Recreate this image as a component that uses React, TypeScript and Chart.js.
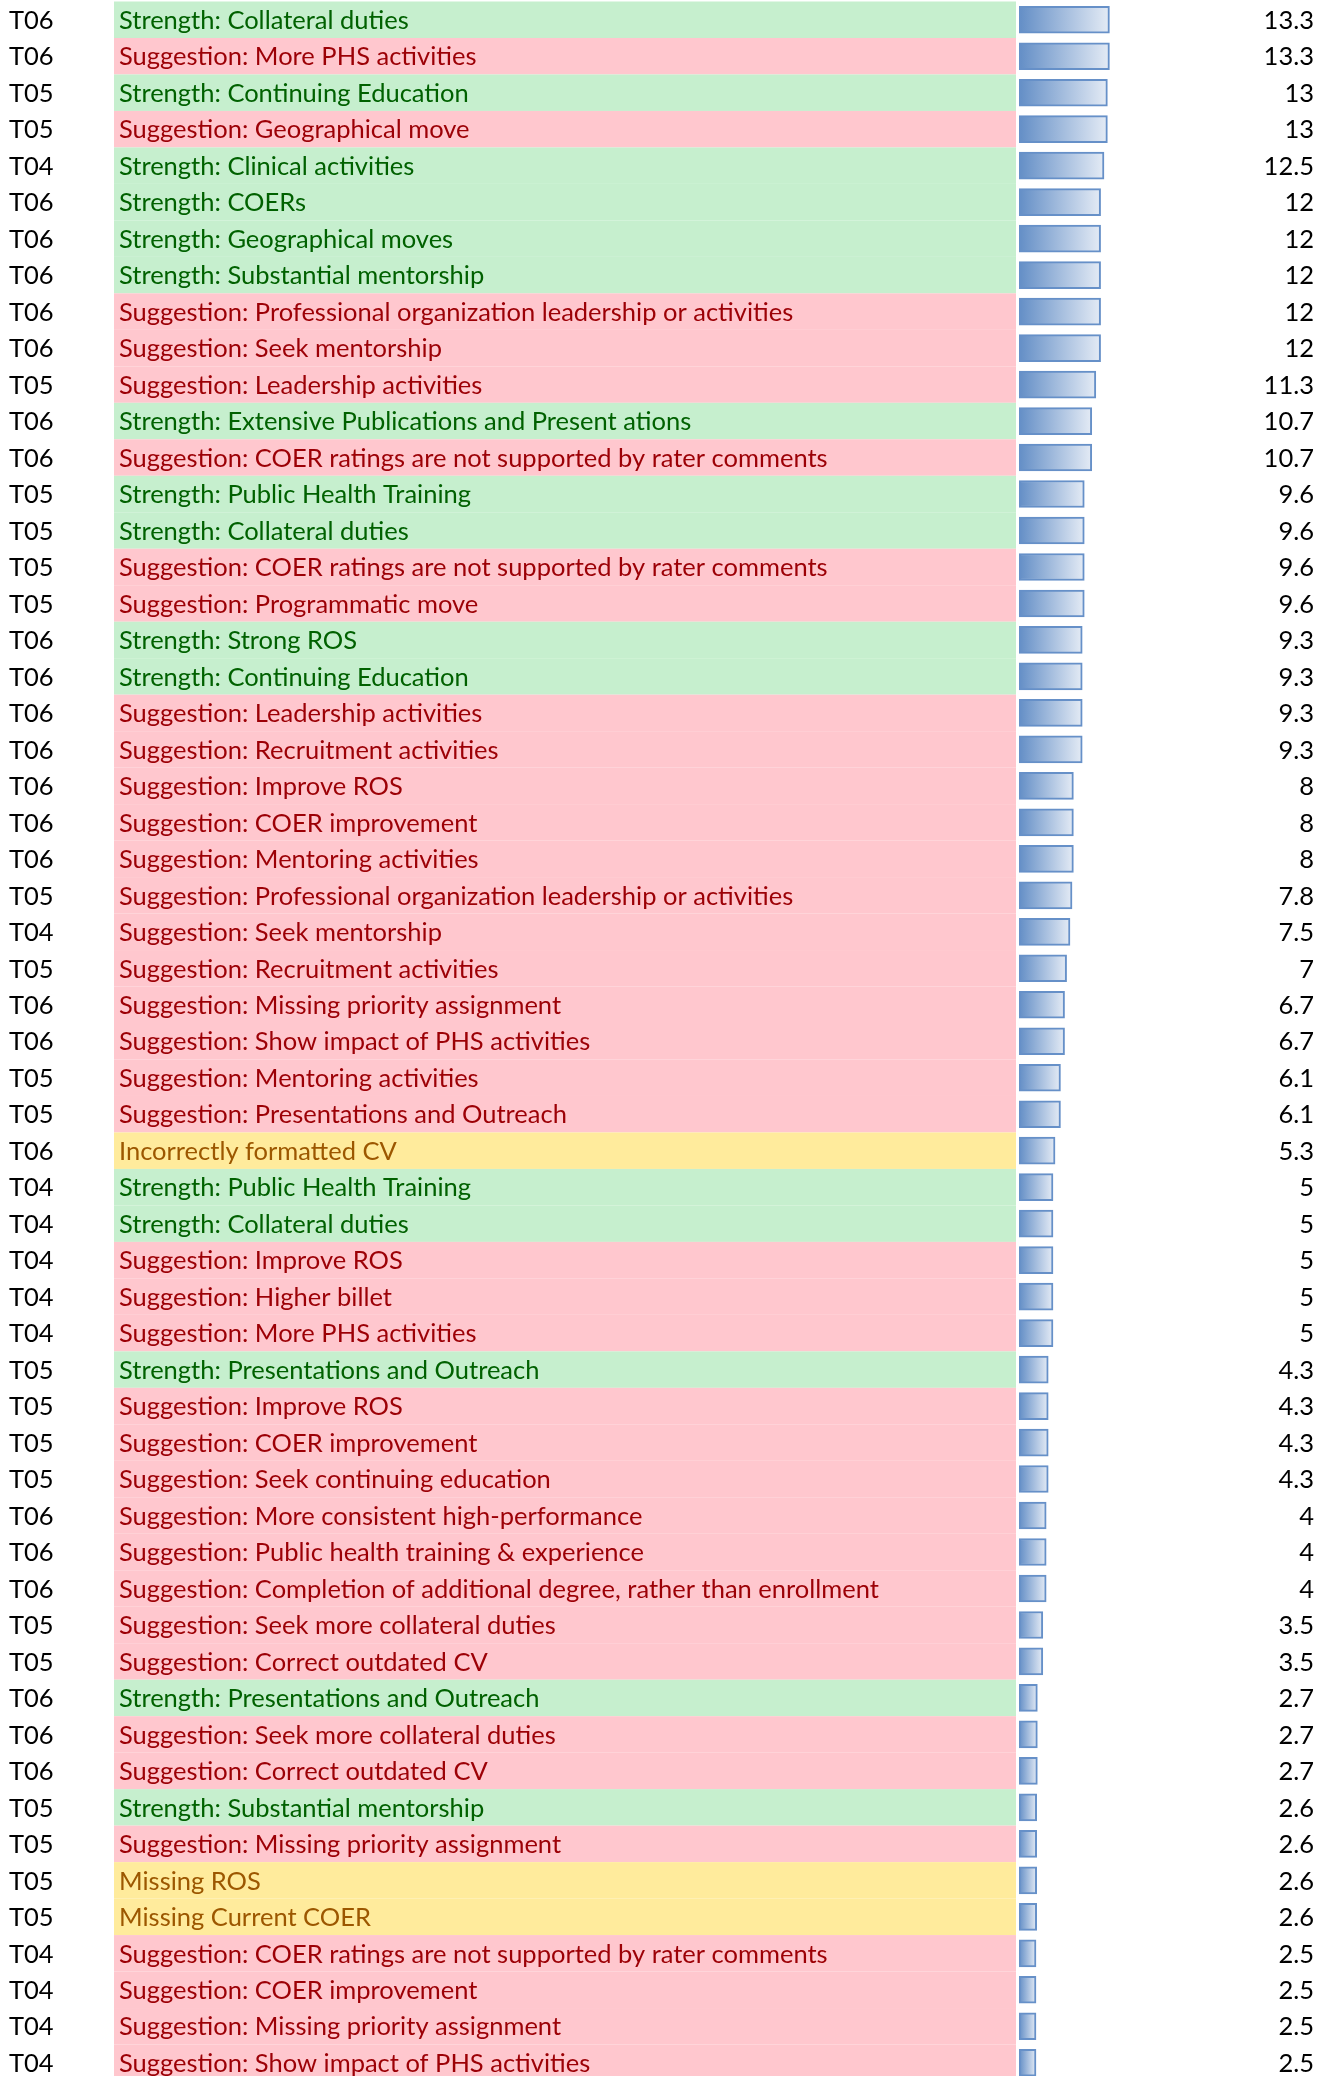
import React, { useEffect, useRef } from 'react';
import { Chart, registerables } from 'chart.js';

Chart.register(...registerables);

const teams: string[] = [
  'T06', 'T06', 'T05', 'T05', 'T04', 'T06', 'T06', 'T06', 'T06', 'T06',
  'T05', 'T06', 'T06', 'T05', 'T05', 'T05', 'T05', 'T06', 'T06', 'T06',
  'T06', 'T06', 'T06', 'T06', 'T05', 'T04', 'T05', 'T06', 'T06', 'T05',
  'T05', 'T06', 'T04', 'T04', 'T04', 'T04', 'T04', 'T05', 'T05', 'T05',
  'T05', 'T06', 'T06', 'T06', 'T05', 'T05', 'T06', 'T06', 'T06', 'T05',
  'T05', 'T05', 'T05', 'T04', 'T04', 'T04', 'T04',
];

const items: string[] = [
  'Strength: Collateral duties',
  'Suggestion: More PHS activities',
  'Strength: Continuing Education',
  'Suggestion: Geographical move',
  'Strength: Clinical activities',
  'Strength: COERs',
  'Strength: Geographical moves',
  'Strength: Substantial mentorship',
  'Suggestion: Professional organization leadership or activities',
  'Suggestion: Seek mentorship',
  'Suggestion: Leadership activities',
  'Strength: Extensive Publications and Present ations',
  'Suggestion: COER ratings are not supported by rater comments',
  'Strength: Public Health Training',
  'Strength: Collateral duties',
  'Suggestion: COER ratings are not supported by rater comments',
  'Suggestion: Programmatic move',
  'Strength: Strong ROS',
  'Strength: Continuing Education',
  'Suggestion: Leadership activities',
  'Suggestion: Recruitment activities',
  'Suggestion: Improve ROS',
  'Suggestion: COER improvement',
  'Suggestion: Mentoring activities',
  'Suggestion: Professional organization leadership or activities',
  'Suggestion: Seek mentorship',
  'Suggestion: Recruitment activities',
  'Suggestion: Missing priority assignment',
  'Suggestion: Show impact of PHS activities',
  'Suggestion: Mentoring activities',
  'Suggestion: Presentations and Outreach',
  'Incorrectly formatted CV',
  'Strength: Public Health Training',
  'Strength: Collateral duties',
  'Suggestion: Improve ROS',
  'Suggestion: Higher billet',
  'Suggestion: More PHS activities',
  'Strength: Presentations and Outreach',
  'Suggestion: Improve ROS',
  'Suggestion: COER improvement',
  'Suggestion: Seek continuing education',
  'Suggestion: More consistent high-performance',
  'Suggestion: Public health training & experience',
  'Suggestion: Completion of additional degree, rather than enrollment',
  'Suggestion: Seek more collateral duties',
  'Suggestion: Correct outdated CV',
  'Strength: Presentations and Outreach',
  'Suggestion: Seek more collateral duties',
  'Suggestion: Correct outdated CV',
  'Strength: Substantial mentorship',
  'Suggestion: Missing priority assignment',
  'Missing ROS',
  'Missing Current COER',
  'Suggestion: COER ratings are not supported by rater comments',
  'Suggestion: COER improvement',
  'Suggestion: Missing priority assignment',
  'Suggestion: Show impact of PHS activities',
];

const values: number[] = [
  13.3, 13.3, 13, 13, 12.5, 12, 12, 12, 12, 12,
  11.3, 10.7, 10.7, 9.6, 9.6, 9.6, 9.6, 9.3, 9.3, 9.3,
  9.3, 8, 8, 8, 7.8, 7.5, 7, 6.7, 6.7, 6.1,
  6.1, 5.3, 5, 5, 5, 5, 5, 4.3, 4.3, 4.3,
  4.3, 4, 4, 4, 3.5, 3.5, 2.7, 2.7, 2.7, 2.6,
  2.6, 2.6, 2.6, 2.5, 2.5, 2.5, 2.5,
];

const valueLabels: string[] = values.map((v) => String(v));

const FONT = 'Lato, "Open Sans", sans-serif';
const FONT_SIZE = 25.5;

function kindOf(label: string): 'good' | 'bad' | 'neutral' {
  if (label.startsWith('Strength:')) return 'good';
  if (label.startsWith('Suggestion:')) return 'bad';
  return 'neutral';
}
const fillByKind = { good: '#C6EFCE', bad: '#FFC7CE', neutral: '#FFEB9C' };
const textByKind = { good: '#006100', bad: '#9C0006', neutral: '#9C5700' };

const rowBackgrounds = {
  id: 'rowBackgrounds',
  beforeDraw(chart: any) {
    const ys = chart.scales.y;
    if (!ys) return;
    const { ctx, chartArea } = chart;
    const half = Math.abs(ys.getPixelForValue(1) - ys.getPixelForValue(0)) / 2;
    const x0 = ys.left - 5;
    const x1 = chartArea.left - 3;
    ctx.save();
    items.forEach((label, i) => {
      const yc = ys.getPixelForValue(i);
      ctx.fillStyle = fillByKind[kindOf(label)];
      ctx.fillRect(x0, yc - half, x1 - x0, half * 2);
    });
    ctx.restore();
  },
};

function fixedWidth(w: number) {
  return (s: any) => {
    s.width = w;
    s.paddingTop = 0;
    s.paddingBottom = 0;
  };
}

const tickBase = {
  autoSkip: false,
  crossAlign: 'far',
  padding: 0,
  labelOffset: 1,
  font: { family: FONT, size: FONT_SIZE },
};

export default function App() {
  const canvasRef = useRef<HTMLCanvasElement | null>(null);

  useEffect(() => {
    document.body.style.margin = '0';
    const canvas = canvasRef.current;
    if (!canvas) return;
    const chart = new Chart(canvas, {
      type: 'bar',
      data: {
        labels: items,
        datasets: [
          {
            data: values,
            xAxisID: 'x',
            yAxisID: 'y',
            barThickness: 27,
            borderWidth: 2,
            borderColor: '#6690C8',
            borderSkipped: false,
            backgroundColor: (c: any) => {
              const ch = c.chart;
              const xs = ch.scales && ch.scales.x;
              if (!xs || c.dataIndex === undefined) return '#8FAADC';
              const x0 = xs.getPixelForValue(0);
              const x1 = xs.getPixelForValue(values[c.dataIndex]);
              if (!isFinite(x0) || !isFinite(x1) || x1 <= x0) return '#8FAADC';
              const g = ch.ctx.createLinearGradient(x0, 0, x1, 0);
              g.addColorStop(0, '#638EC6');
              g.addColorStop(1, '#E4EBF5');
              return g;
            },
          },
        ],
      },
      options: {
        indexAxis: 'y',
        responsive: false,
        animation: false,
        events: [],
        layout: { padding: { left: 9, right: 7, top: 1.5, bottom: 3 } },
        plugins: {
          legend: { display: false },
          title: { display: false },
          tooltip: { enabled: false },
        },
        scales: {
          x: {
            type: 'linear',
            min: 0,
            max: 30,
            display: false,
          },
          y: {
            type: 'category',
            position: 'left',
            weight: 0,
            offset: true,
            grid: { display: false, offset: true, drawTicks: false },
            border: { display: false },
            afterFit: fixedWidth(900),
            ticks: {
              ...tickBase,
              color: (c: any) => textByKind[kindOf(items[c.index] || '')],
            },
          },
          yT: {
            type: 'category',
            position: 'left',
            weight: 1,
            labels: teams,
            offset: true,
            grid: { display: false, offset: true, drawTicks: false },
            border: { display: false },
            afterFit: fixedWidth(110),
            ticks: { ...tickBase, color: '#000000' },
          },
          yV: {
            type: 'category',
            position: 'right',
            labels: valueLabels,
            offset: true,
            grid: { display: false, offset: true, drawTicks: false },
            border: { display: false },
            afterFit: fixedWidth(91),
            ticks: { ...tickBase, color: '#000000' },
          },
        },
      } as any,
      plugins: [rowBackgrounds],
    });
    return () => chart.destroy();
  }, []);

  return (
    <div style={{ position: 'relative', width: 1321, height: 2076, overflow: 'hidden', background: '#ffffff' }}>
      <canvas ref={canvasRef} width={1321} height={2084} style={{ display: 'block', width: 1321, height: 2084 }} />
    </div>
  );
}
